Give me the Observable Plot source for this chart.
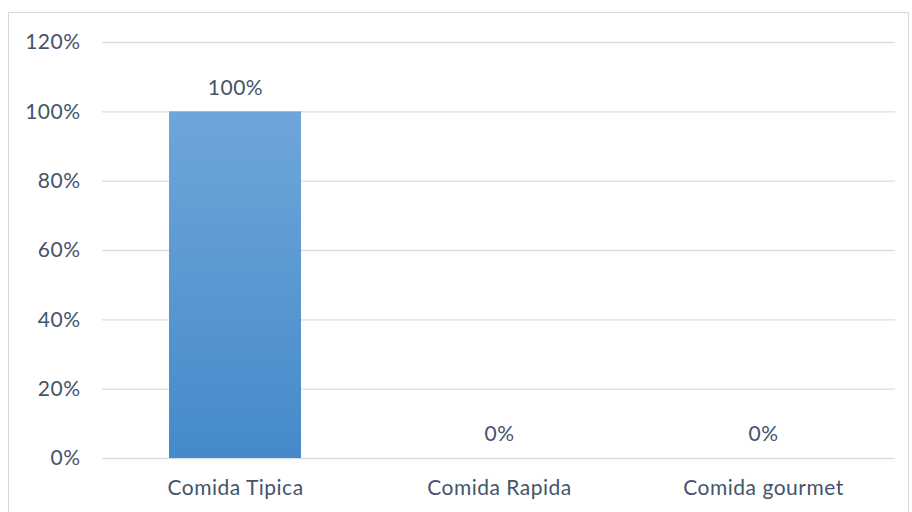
<!DOCTYPE html>
<html>
<head>
<meta charset="utf-8">
<script src="https://cdn.jsdelivr.net/npm/d3@7"></script>
<script src="https://cdn.jsdelivr.net/npm/@observablehq/plot@0.6"></script>
<style>
  html, body { margin: 0; padding: 0; background: #fff; }
  #wrap { position: relative; width: 912px; height: 512px; overflow: hidden; }
  #frame { position: absolute; left: 8px; top: 12px; width: 901px; height: 520px; border: 1px solid #d9d9d9; box-sizing: border-box; pointer-events: none; }
  svg text { font-family: Lato, "Open Sans", sans-serif; letter-spacing: 0.5px; }
</style>
</head>
<body>
<div id="wrap"><div id="frame"></div><div id="chart"></div></div>
<script>
const categories = ["Comida Tipica", "Comida Rapida", "Comida gourmet"];
const values = [1.0, 0.0, 0.0];
const yTicks = [0, 0.2, 0.4, 0.6, 0.8, 1.0, 1.2];

const data = categories.map((c, i) => ({category: c, value: values[i]}));
const pct = v => Math.round(v * 100) + "%";

const chart = Plot.plot({
  width: 912,
  height: 512,
  marginLeft: 102,
  marginRight: 17,
  marginTop: 42,
  marginBottom: 54,
  style: {fontSize: "21px", color: "#44546a", background: "transparent"},
  x: {domain: categories, paddingInner: 0.5, paddingOuter: 0.25, label: null, tickSize: 0, tickPadding: 22},
  y: {domain: [0, 1.2], ticks: yTicks, tickFormat: pct, label: null, tickSize: 0, tickPadding: 22},
  marks: [
    Plot.gridY(yTicks, {stroke: "#d9dde5", strokeOpacity: 1, strokeWidth: 1.3}),
    Plot.barY(data, {x: "category", y: "value", fill: "url(#barGrad)"}),
    Plot.text(data, {x: "category", y: "value", text: d => pct(d.value), dy: -24, fill: "#44546a", fontSize: 21})
  ]
});

const ns = "http://www.w3.org/2000/svg";
const defs = document.createElementNS(ns, "defs");
defs.innerHTML = '<linearGradient id="barGrad" x1="0" y1="0" x2="0" y2="1"><stop offset="0" stop-color="#6fa6da"/><stop offset="1" stop-color="#448aca"/></linearGradient>';
chart.insertBefore(defs, chart.firstChild);
document.getElementById("chart").appendChild(chart);
</script>
</body>
</html>
